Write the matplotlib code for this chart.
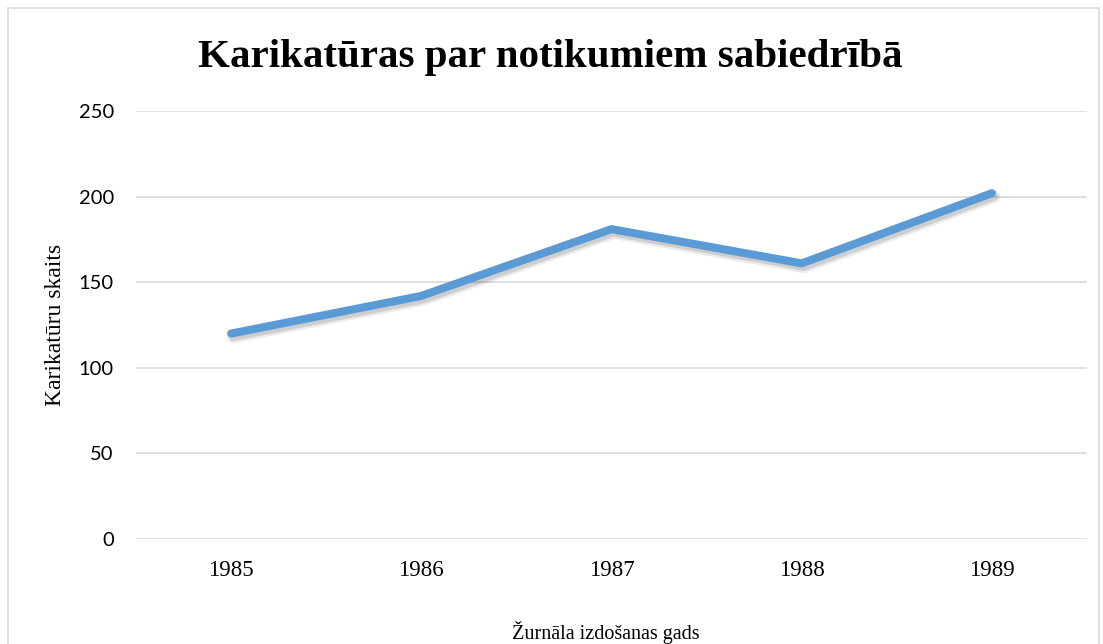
"""Karikatūras par notikumiem sabiedrībā - line chart."""
import matplotlib
matplotlib.use("Agg")
import matplotlib.pyplot as plt
import matplotlib.patches as patches
import matplotlib.patheffects as pe

years = ["1985", "1986", "1987", "1988", "1989"]
counts = [120, 142, 181, 161, 202]
y_ticks = [0, 50, 100, 150, 200, 250]

W, H = 1103, 644
fig = plt.figure(figsize=(W / 100, H / 100), dpi=100)
ax = fig.add_axes([136 / W, 1 - 539 / H, (1087 - 136) / W, (539 - 111) / H])

# outer chart border (bottom edge runs off the picture)
fig.patches.append(
    patches.Rectangle(
        (8 / W, -0.05), (1099 - 8) / W, 1.05 - 8 / H,
        transform=fig.transFigure, fill=False, edgecolor="#d9d9d9", linewidth=1.2,
    )
)

x = list(range(len(years)))
# soft shadow: a couple of wider, faint strokes under the line
ax.plot(
    x, counts, color="#5b9bd5", linewidth=5.8, solid_capstyle="round",
    solid_joinstyle="round",
    path_effects=[
        pe.SimpleLineShadow(offset=(1.5, -2.5), shadow_color="#000000", alpha=0.08,
                            linewidth=9),
        pe.SimpleLineShadow(offset=(1.5, -2.5), shadow_color="#000000", alpha=0.12),
        pe.Normal(),
    ],
    zorder=3,
)

ax.set_xlim(-0.5, len(years) - 0.5)
ax.set_ylim(0, 250)
ax.set_yticks(y_ticks)
ax.set_xticks(x)
ax.set_xticklabels(years, fontfamily="Liberation Serif", fontsize=16.5)
for lbl in ax.get_yticklabels():
    lbl.set_fontfamily("Lato")
    lbl.set_fontsize(14.5)
ax.tick_params(length=0, colors="#000000")
ax.tick_params(axis="x", pad=15)
ax.tick_params(axis="y", pad=16)
ax.grid(axis="y", color="#d9d9d9", linewidth=1.2)
ax.set_axisbelow(True)
for side in ["top", "right", "left", "bottom"]:
    ax.spines[side].set_visible(False)

fig.text(550 / W, 1 - 57 / H, "Karikatūras par notikumiem sabiedrībā",
         ha="center", va="center", fontfamily="Liberation Serif",
         fontweight="bold", fontsize=29.5)
fig.text(56 / W, 1 - 325 / H, "Karikatūru skaits", rotation=90,
         ha="center", va="center", fontfamily="Liberation Serif", fontsize=17)
fig.text(606 / W, 1 - 633 / H, "Žurnāla izdošanas gads",
         ha="center", va="center", fontfamily="Liberation Serif", fontsize=14.5)

fig.savefig("out.png", dpi=100, facecolor="white")
